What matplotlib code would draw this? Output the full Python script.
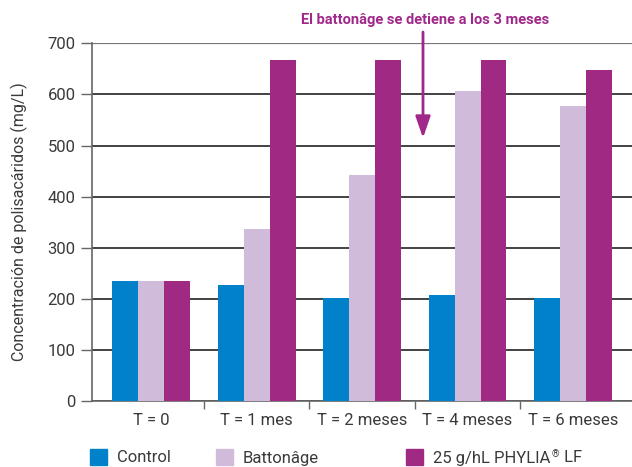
import matplotlib
matplotlib.use("Agg")
import matplotlib.pyplot as plt
import numpy as np
from matplotlib.patches import Rectangle

categories = ["T = 0", "T = 1 mes", "T = 2 meses", "T = 4 meses", "T = 6 meses"]
control = [235, 226, 202, 207, 202]
battonage = [235, 336, 443, 606, 577]
phylia = [235, 667, 667, 667, 647]
series_names = ["Control", "Battonâge", "25 g/hL PHYLIA"]
colors = ["#0081C9", "#D1BBDB", "#A02984"]
y_ticks = [0, 100, 200, 300, 400, 500, 600, 700]

plt.rcParams["font.family"] = ["Roboto", "DejaVu Sans"]

text_color = "#3a3a3a"
fig = plt.figure(figsize=(6.32, 4.67), dpi=100)
ax = fig.add_axes([0.146, 0.142, 0.854, 0.765])

x = np.arange(len(categories))
w = 0.246
for i, (vals, c) in enumerate(zip([control, battonage, phylia], colors)):
    ax.bar(x + (i - 1) * w, vals, width=w, color=c, zorder=3, linewidth=0)

ax.set_ylim(0, 700)
ax.set_xlim(-0.56, 4.56)
ax.set_yticks(y_ticks)
ax.set_yticklabels([str(v) for v in y_ticks], fontsize=12, color=text_color)
ax.yaxis.grid(True, color="#222222", linewidth=1.2, zorder=1)
ax.get_ygridlines()[-1].set_color("#777777")
ax.get_ygridlines()[-1].set_linewidth(1.6)
ax.tick_params(axis="y", length=8, width=1, color="#666666", pad=4)

# category labels centred, tick marks on the group boundaries
ax.set_xticks(x)
ax.set_xticklabels(categories, fontsize=12, color=text_color)
ax.tick_params(axis="x", length=0, pad=9)
ax.set_xticks(np.arange(0.5, 4.5, 1), minor=True)
ax.tick_params(axis="x", which="minor", length=6, width=1, color="#666666")

for s in ["top", "right"]:
    ax.spines[s].set_visible(False)
for s in ["left", "bottom"]:
    ax.spines[s].set_color("#666666")
    ax.spines[s].set_linewidth(1.2)

ax.set_ylabel("Concentración de polisacáridos (mg/L)", fontsize=11.5,
              color=text_color, labelpad=14)

# annotation about the stop of battonâge
purple = "#A0288A"
fig.text(425 / 632, 1 - 20 / 467, "El battonâge se detiene a los 3 meses",
         ha="center", va="center", fontsize=10.5, fontweight="bold",
         color=purple)
ax.annotate("", xy=(423 / 632, 1 - 138 / 467), xycoords="figure fraction",
            xytext=(423 / 632, 1 - 32 / 467), textcoords="figure fraction",
            arrowprops=dict(arrowstyle="-|>,head_length=1.3,head_width=0.45",
                            color=purple, lw=2, shrinkA=0, shrinkB=0))

# legend row
legend_x = [90, 216, 406]
last = None
for lx, name, c in zip(legend_x, series_names, colors):
    fig.patches.append(Rectangle((lx / 632, 1 - 465 / 467), 17 / 632, 16 / 467,
                                 transform=fig.transFigure, color=c,
                                 figure=fig))
    last = fig.text((lx + 27) / 632, 1 - 458 / 467, name, ha="left",
                    va="center", fontsize=12, color=text_color)

# registered mark as a superscript, then the rest of the product name
reg = fig.text(0, 0, "®", fontsize=7, color=text_color, ha="left", va="top")
reg.set_position((0, 0))
reg.set_transform(matplotlib.transforms.offset_copy(
    fig.transFigure, fig=fig, x=0, y=0, units="points"))
fig.canvas.draw()
bb = last.get_window_extent()
reg.set_transform(matplotlib.transforms.IdentityTransform())
reg.set_position((bb.x1 + 1, bb.y1 + 1))
fig.canvas.draw()
bb2 = reg.get_window_extent()
tail = fig.text(bb2.x1 + 1, (bb.y0 + bb.y1) / 2, " LF", fontsize=12,
                color=text_color, ha="left", va="center",
                transform=matplotlib.transforms.IdentityTransform())

fig.savefig("out.png", dpi=100)
